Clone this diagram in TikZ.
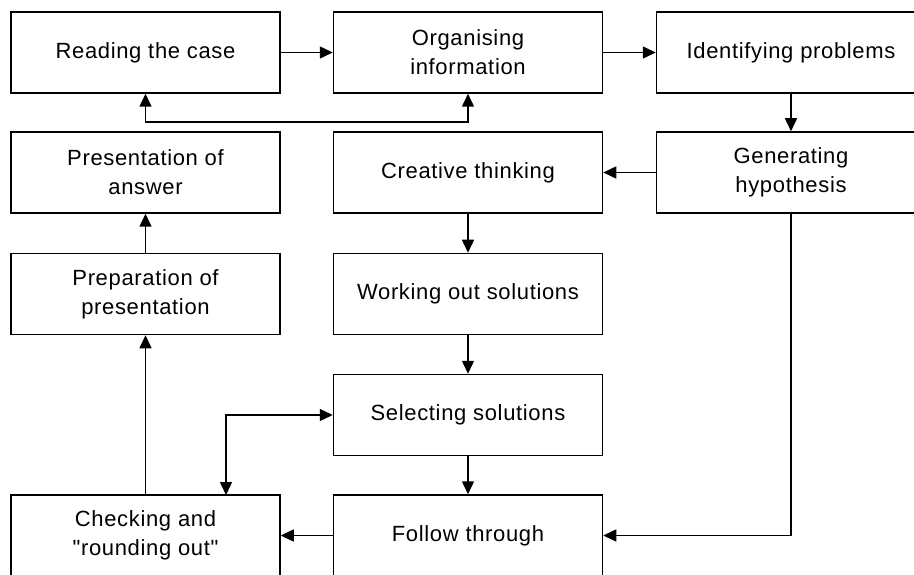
\documentclass[tikz,border=0pt]{standalone}
\usepackage{fontspec}
\setmainfont{Liberation Sans}[LetterSpace=3,Ligatures=TeXOff]
\usetikzlibrary{arrows.meta,calc}
\begin{document}
\begin{tikzpicture}[x=1pt,y=-1pt,
  box/.style={draw=black,line width=1.5pt,minimum width=269pt,minimum height=81pt,inner sep=0pt,align=center,font=\fontsize{22}{29}\selectfont},
  tip/.style={Triangle[length=13pt,width=12pt]},
  conn/.style={draw=black,line width=1.5pt,-{Triangle[length=13pt,width=12pt]}},
  conn2/.style={draw=black,line width=1.5pt,{Triangle[length=13pt,width=12pt]}-{Triangle[length=13pt,width=12pt]}}]
\useasboundingbox (0,0) rectangle (914,575);
\clip (0,0) rectangle (914,575);
\fill[white] (0,0) rectangle (914,575);
\node[box] (read) at (145.5,52.5) {Reading the case};
\node[box] (org) at (468,52.5) {Organising\\information};
\node[box] (idp) at (791,52.5) {Identifying problems};
\node[box] (pres) at (145.5,172.5) {Presentation of\\answer};
\node[box] (cre) at (468,172.5) {Creative thinking};
\node[box] (gen) at (791,172.5) {Generating\\hypothesis};
\node[box] (prep) at (145.5,294) {Preparation of\\presentation};
\node[box] (work) at (468,294) {Working out solutions};
\node[box] (sel) at (468,415) {Selecting solutions};
\node[box] (chk) at (145.5,535.5) {Checking and\\"rounding out"};
\node[box] (fol) at (468,535.5) {Follow through};
\coordinate (lp) at (145.5,122);
\coordinate (cj) at (226,495);
\draw[conn] (read) -- (org);
\draw[conn] (org) -- (idp);
\draw[conn2] (read.south) -- (read.south |- lp) -| (org.south);
\draw[conn] (idp) -- (gen);
\draw[conn] (gen) -- (cre);
\draw[conn] (cre) -- (work);
\draw[conn] (work) -- (sel);
\draw[conn] (sel) -- (fol);
\draw[conn] (gen.south) |- (fol.east);
\draw[conn] (fol) -- (chk);
\draw[conn] (chk.north) -- (prep.south);
\draw[conn] (prep) -- (pres);
\draw[conn2] (sel.west) -| (cj);
\end{tikzpicture}
\end{document}
